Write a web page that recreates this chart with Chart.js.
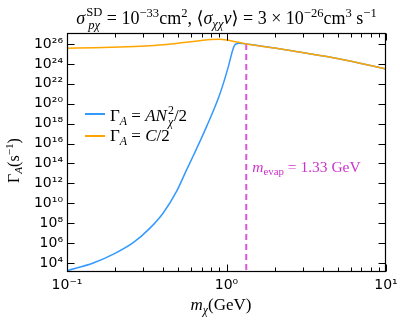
<!DOCTYPE html>
<html><head><meta charset="utf-8">
<script src="https://cdn.jsdelivr.net/npm/chart.js@4/dist/chart.umd.min.js"></script>
<style>
html,body{margin:0;padding:0;background:#fff;}
#wrap{position:relative;width:407px;height:323px;overflow:hidden;}
#c{position:absolute;left:0;top:0;}
.m{position:absolute;font-family:"Liberation Serif","DejaVu Serif",serif;color:#000;white-space:nowrap;line-height:1;}
.i{font-style:italic;}
.ss{display:inline-flex;flex-direction:column;vertical-align:0.62em;font-size:0.7em;line-height:1.0;margin-left:1px;}
sup,sub{font-size:0.7em;line-height:0;}
sup{vertical-align:0.55em;} sub{vertical-align:-0.3em;}
.lg{position:absolute;height:2px;width:20px;}
</style></head>
<body><div id="wrap"><canvas id="c" width="407" height="323"></canvas>
<div class="m" id="title" style="font-size:18px;text-align:center;"><span class="i">σ</span><span class="ss"><span>SD</span><span class="i">pχ</span></span> = 10<sup>−33</sup>cm<sup>2</sup>, ⟨<span class="i">σ</span><sub class="i">χχ</sub><span class="i">v</span>⟩ = 3 × 10<sup>−26</sup>cm<sup>3</sup> s<sup>−1</sup></div>
<div class="lg" id="lg1"></div><div class="lg" id="lg2"></div>
<div class="m" id="lt1" style="font-size:17px;">Γ<sub class="i">A</sub> = <span class="i">AN</span><span class="ss"><span>2</span><span class="i">χ</span></span>/2</div>
<div class="m" id="lt2" style="font-size:17px;">Γ<sub class="i">A</sub> = <span class="i">C</span>/2</div>
<div class="m" id="ylab" style="font-size:16px;transform-origin:0 0;transform:rotate(-90deg);">Γ<sub class="i">A</sub>(s<sup>−1</sup>)</div>
<div class="m" id="xlab" style="font-size:17px;"><span class="i">m</span><sub class="i">χ</sub>(GeV)</div>
<div class="m" id="ann" style="font-size:15.5px;color:#cc33cc;"><span class="i">m</span><sub>evap</sub> = 1.33 GeV</div>
</div>
<script>
// ---- data ----
const massAN = [0.1,0.146,0.2,0.26,0.33,0.40,0.49,0.56,0.62,0.75,0.91,1.026,1.094,1.127,1.15,1.2,1.33,2.0,2.62,4.25,6.87,10];
const logGammaAN = [3.23,4.0,4.97,6.04,7.48,9.0,11.3,13.3,14.8,17.7,21.0,23.7,25.4,25.9,26.0,26.06,26.0,25.6,25.3,24.73,24.06,23.49];
const massC = [0.1,0.15,0.24,0.33,0.42,0.54,0.68,0.8,0.9,1.0,1.16,1.33,2.0,2.62,4.25,6.87,10];
const logGammaC = [25.57,25.63,25.73,25.83,25.95,26.15,26.33,26.45,26.47,26.4,26.2,26.0,25.6,25.3,24.73,24.06,23.49];
const mEvap = 1.33;
const logGammaEvap = 26.0;
const xTickValues = [0.1,1,10];
const xTickLabels = ['10⁻¹','10⁰','10¹'];
const yTickExps = [4,6,8,10,12,14,16,18,20,22,24,26];
const yTickLabels = ['10⁴','10⁶','10⁸','10¹⁰','10¹²','10¹⁴','10¹⁶','10¹⁸','10²⁰','10²²','10²⁴','10²⁶'];
const xMin = 0.1, xMax = 10, yMinExp = 3.1, yMaxExp = 27.1;

const BLUE = '#3399ff', ORANGE = '#ffa500', MAG = '#dd55dd';

const toPts = (xs, ls) => xs.map((m,i)=>({x:m, y:Math.pow(10, ls[i])}));

const tickPlugin = {
  id:'inTicks',
  afterDatasetsDraw(chart){
    const {ctx, chartArea:a, scales:{x,y}} = chart;
    ctx.save();
    ctx.strokeStyle='#000'; ctx.lineWidth=1;
    const L=Math.round(a.left)+0.5, R=Math.round(a.right)-0.5, T=Math.round(a.top)+0.5, B=Math.round(a.bottom)-0.5;
    ctx.beginPath();
    const vt = (px,len)=>{px=Math.round(px)+0.5; ctx.moveTo(px,B); ctx.lineTo(px,B-len); ctx.moveTo(px,T); ctx.lineTo(px,T+len);};
    xTickValues.forEach(v=>vt(x.getPixelForValue(v),7));
    [0.1,1].forEach(d=>{for(let k=2;k<=9;k++) vt(x.getPixelForValue(k*d),4);});
    yTickExps.forEach(e=>{const py=Math.round(y.getPixelForValue(Math.pow(10,e)))+0.5; ctx.moveTo(L,py); ctx.lineTo(L+7,py); ctx.moveTo(R,py); ctx.lineTo(R-7,py);});
    ctx.stroke();
    ctx.lineWidth=1.2;
    ctx.strokeRect(L,T,R-L,B-T);
    ctx.restore();
  }
};

const chart = new Chart(document.getElementById('c'), {
  type:'line',
  data:{datasets:[
    {label:'C/2', data:toPts(massC, logGammaC), borderColor:ORANGE, borderWidth:1.5, pointRadius:0, cubicInterpolationMode:'monotone', order:0},
    {label:'AN2/2', data:toPts(massAN, logGammaAN), borderColor:BLUE, borderWidth:1.5, pointRadius:0, cubicInterpolationMode:'monotone', order:1},
    {label:'mevap', data:[{x:mEvap,y:Math.pow(10,logGammaEvap)},{x:mEvap,y:Math.pow(10,yMinExp)}], borderColor:MAG, borderWidth:2, borderDash:[6,4], pointRadius:0, order:2}
  ]},
  options:{
    responsive:false, animation:false, devicePixelRatio:1,
    layout:{padding:{left:0, right:21, top:33, bottom:0}},
    plugins:{legend:{display:false}, tooltip:{enabled:false}, title:{display:false}},
    scales:{
      x:{type:'logarithmic', min:xMin, max:xMax,
        grid:{display:false, drawTicks:false}, border:{display:false},
        afterBuildTicks:s=>{s.ticks = xTickValues.map(v=>({value:v}));},
        afterFit:s=>{s.height = 51;},
        ticks:{autoSkip:false, maxRotation:0, padding:5, color:'#000', font:{family:'DejaVu Sans', size:14},
          callback:(v)=>{const i=xTickValues.findIndex(t=>Math.abs(t-v)/t<1e-6); return i>=0?xTickLabels[i]:'';}}
      },
      y:{type:'logarithmic', min:Math.pow(10,yMinExp), max:Math.pow(10,yMaxExp),
        grid:{display:false, drawTicks:false}, border:{display:false},
        afterBuildTicks:s=>{s.ticks = yTickExps.map(e=>({value:Math.pow(10,e)}));},
        afterFit:s=>{s.width = 67;},
        ticks:{autoSkip:false, padding:4, color:'#000', font:{family:'DejaVu Sans', size:14},
          callback:(v)=>{const e=Math.round(Math.log10(v)); const i=yTickExps.indexOf(e); return i>=0?yTickLabels[i]:'';}}
      }
    }
  },
  plugins:[tickPlugin]
});

// ---- place text overlays relative to the chart ----
(function place(){
  const a = chart.chartArea, sx = chart.scales.x, sy = chart.scales.y;
  const t = document.getElementById('title');
  t.style.left = a.left+'px'; t.style.width=(a.right-a.left)+'px'; t.style.top='6px';
  const lg1=document.getElementById('lg1'), lg2=document.getElementById('lg2');
  lg1.style.background=BLUE; lg2.style.background=ORANGE;
  lg1.style.left=(a.left+18)+'px'; lg1.style.top=(a.top+80)+'px';
  lg2.style.left=(a.left+18)+'px'; lg2.style.top=(a.top+102)+'px';
  const lt1=document.getElementById('lt1'), lt2=document.getElementById('lt2');
  lt1.style.left=(a.left+43)+'px'; lt1.style.top=(a.top+72)+'px';
  lt2.style.left=(a.left+43)+'px'; lt2.style.top=(a.top+94)+'px';
  const yl=document.getElementById('ylab');
  yl.style.left='6px'; yl.style.top=((a.top+a.bottom)/2+30)+'px';
  const xl=document.getElementById('xlab');
  xl.style.left=((a.left+a.right)/2-36)+'px'; xl.style.top='296px';
  const an=document.getElementById('ann');
  an.style.left=(sx.getPixelForValue(mEvap)+6)+'px'; an.style.top=(sy.getPixelForValue(1e13)-14)+'px';
})();
</script>
</body></html>
